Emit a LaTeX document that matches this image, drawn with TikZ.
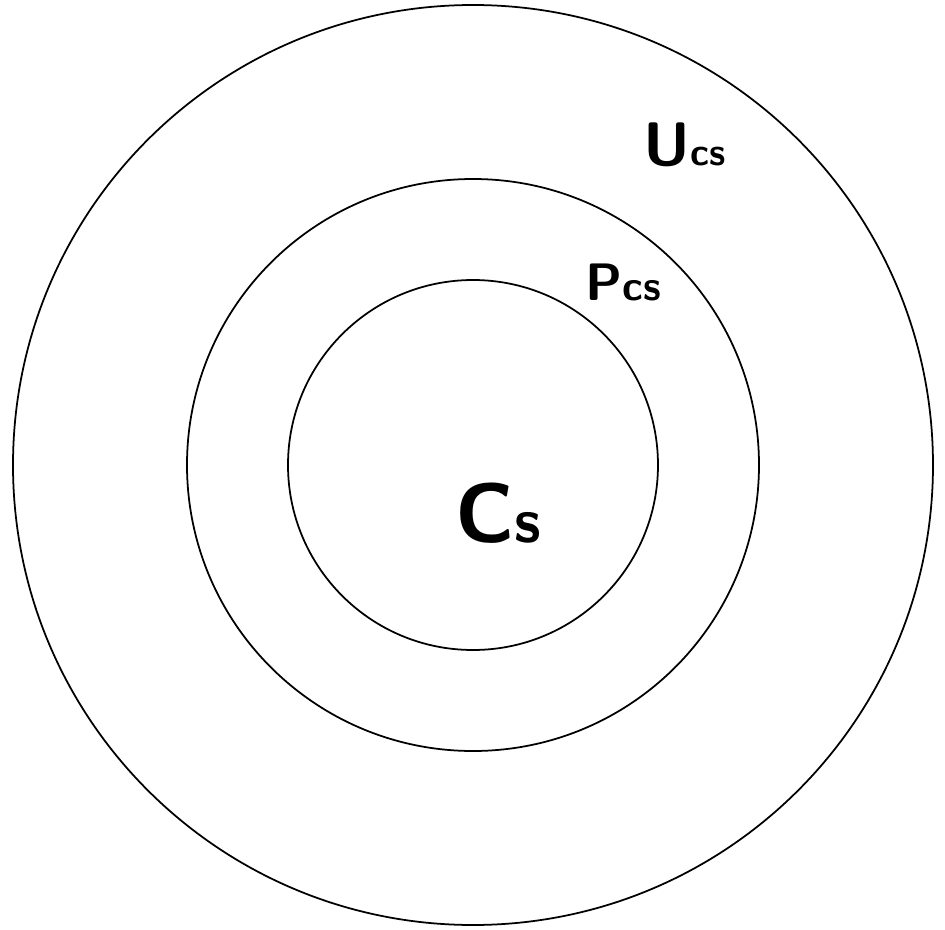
\documentclass[tikz,border=0pt]{standalone}
\usepackage{fontspec}
\usepackage{tikz}
\usetikzlibrary{positioning}

\begin{document}
\begin{tikzpicture}[
  ring/.style={circle,draw,line width=1pt,inner sep=0pt},
  lbl/.style={anchor=base west,inner sep=0pt,font=\sffamily\bfseries}
]
  \useasboundingbox (-9.46,-9.28) rectangle (9.44,9.30);
  \node[ring,minimum size=18.4cm] (ucs) at (0,0) {};
  \node[ring,minimum size=11.44cm] (pcs) at (0,0) {};
  \node[ring,minimum size=7.4cm]  (cs)  at (0,0) {};
  \node[lbl] (ucslbl) at (3.4,6.0)
    {\fontsize{35}{35}\selectfont U\fontsize{22}{22}\selectfont cs};
  \node[lbl] (pcslbl) at (2.24,3.3)
    {\fontsize{30}{30}\selectfont P\fontsize{24}{24}\selectfont cs};
  \node[lbl] (cslbl) at (-0.36,-1.54)
    {\fontsize{48}{48}\selectfont C\fontsize{36}{36}\selectfont s};
\end{tikzpicture}
\end{document}
